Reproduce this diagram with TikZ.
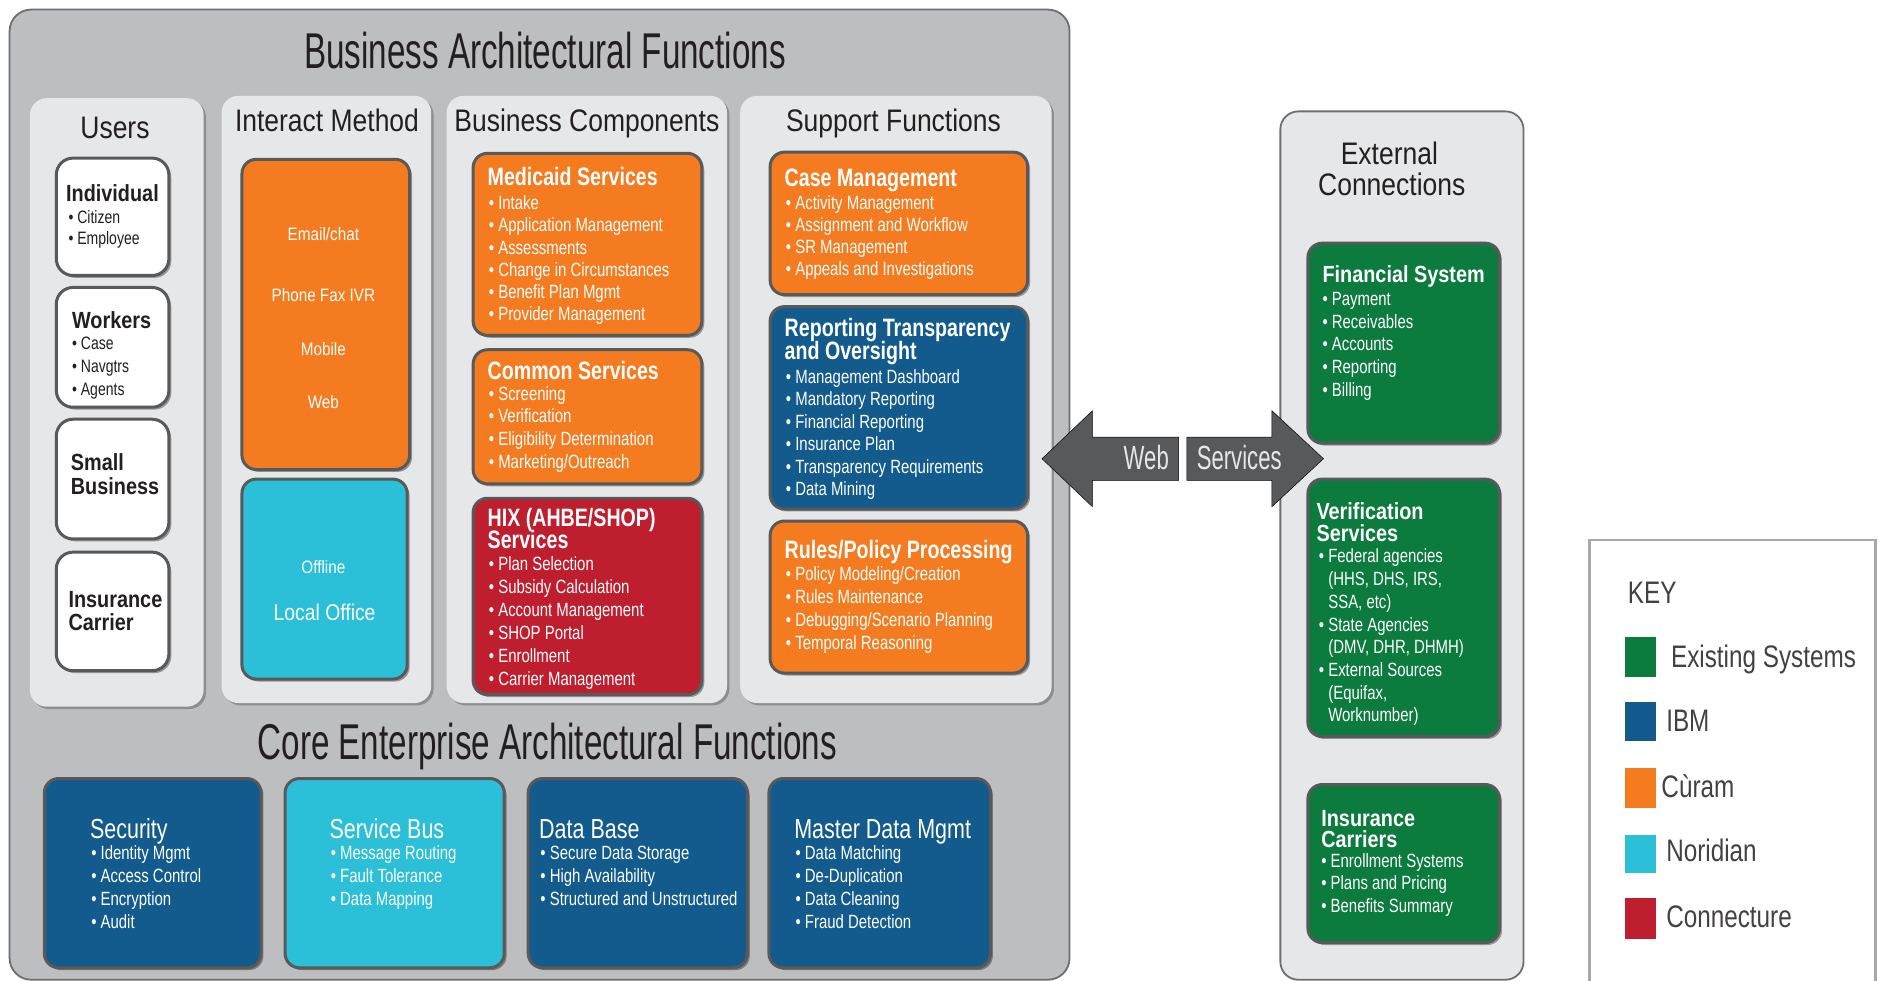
\documentclass[tikz,border=0pt]{standalone}
\usepackage{fontspec}
\setmainfont{Liberation Sans}
\newfontfamily\fntA[FakeStretch=0.66]{Liberation Sans}
\newfontfamily\fntB[FakeStretch=0.85]{Liberation Sans}
\newfontfamily\fntC[FakeStretch=0.78]{Liberation Sans}
\usetikzlibrary{fit,shadows}
\definecolor{corange}{HTML}{F47B20}
\definecolor{cblue}{HTML}{125B8C}
\definecolor{ccyan}{HTML}{2BBFD8}
\definecolor{cred}{HTML}{BE1E2D}
\definecolor{cgreen}{HTML}{0C7B3E}
\definecolor{pgray}{HTML}{BCBEC0}
\definecolor{plight}{HTML}{E6E7E8}
\definecolor{pborder}{HTML}{6D6E71}
\definecolor{bdark}{HTML}{58595B}
\definecolor{tdark}{HTML}{231F20}
\definecolor{keyborder}{HTML}{A7A9AC}
\newcommand{\itemcol}[6]{%
  \foreach \t [count=\i from 1] in {#5}{%
    \node[#6] (#1\i) at ({#2}, {#3+(\i-1)*#4}) {•\ \t};
  }}
\tikzset{
  shadowed/.style={drop shadow={shadow xshift=2pt, shadow yshift=-2pt, opacity=0.35, fill=black}},
  region/.style={fit={#1}, inner sep=0pt},
  ttl/.style={font=\fntA\fontsize{42}{44}\selectfont, text=tdark, inner sep=0pt, anchor=base},
  hdr/.style={font=\fntB\fontsize{26}{28}\selectfont, text=tdark, inner sep=0pt, anchor=base},
  panel/.style={fill=plight, rounded corners=14, drop shadow={shadow xshift=2pt, shadow yshift=-2pt, opacity=0.25, fill=black}},
  cbox/.style={draw=bdark, line width=2.5, rounded corners=12, shadowed},
  wbox/.style={fill=white, draw=bdark, line width=2.5, rounded corners=14, shadowed},
  btitle/.style={font=\fntC\bfseries\fontsize{21}{22}\selectfont, text=white, inner sep=0pt, anchor=base west},
  gtitle/.style={font=\fntB\bfseries\fontsize{19.5}{21}\selectfont, text=white, inner sep=0pt, anchor=base west},
  utitle/.style={font=\fntB\bfseries\fontsize{19.5}{21}\selectfont, text=tdark, inner sep=0pt, anchor=base west},
  ctitle/.style={font=\fntC\fontsize{23}{24}\selectfont, text=white, inner sep=0pt, anchor=base west},
  bitem/.style={font=\fntC\fontsize{16}{18}\selectfont, text=white, inner sep=0pt, anchor=base west},
  uitem/.style={font=\fntC\fontsize{15}{17}\selectfont, text=tdark, inner sep=0pt, anchor=base west},
  itext/.style={font=\fntB\fontsize{15}{17}\selectfont, text=white, inner sep=0pt, anchor=base},
  keytext/.style={font=\fntC\fontsize{26}{28}\selectfont, text=tdark!85, inner sep=0pt, anchor=base west},
  swatch/.style={inner sep=0pt},
  arrowshape/.style={fill=bdark},
  arrowtext/.style={font=\fntA\fontsize{28}{30}\selectfont, text=plight, inner sep=0pt, anchor=base west}
}
\begin{document}
\begin{tikzpicture}[x=1pt,y=-1pt]
\useasboundingbox (0,0) rectangle (1568,819);

% ---------- main panel ----------
\node[region={(8,8) (893,818)}, fill=pgray, draw=pborder, line width=1.5, rounded corners=18] (outer) {};
\node[ttl] (tBAF) at (455,57) {Business Architectural Functions};

\node[region={(25,82) (170,590)}, panel] (pUsers) {};
\node[region={(185,80) (360,587)}, panel] (pInter) {};
\node[region={(373,80) (607,587)}, panel] (pBiz) {};
\node[region={(618,80) (878,587)}, panel] (pSup) {};

\node[hdr] (hUsers) at (96,116) {Users};
\node[hdr] (hInter) at (273,110) {Interact Method};
\node[hdr] (hBiz) at (490,110) {Business Components};
\node[hdr] (hSup) at (746,110) {Support Functions};

% ---------- users ----------
\node[region={(47,132) (141,230)}, wbox] (uInd) {};
\node[region={(47,240) (141,340)}, wbox] (uWork) {};
\node[region={(47,350) (141,450)}, wbox] (uSmall) {};
\node[region={(47,461) (141,560)}, wbox] (uCarr) {};
\node[utitle] (uIndT) at (55,168) {Individual};
\itemcol{uIndI}{57}{187}{17}{Citizen,Employee}{uitem}
\node[utitle] (uWorkT) at (60,274) {Workers};
\itemcol{uWorkI}{60}{292}{19}{Case,Navgtrs,Agents}{uitem}
\node[utitle] (uSmallT1) at (59,393) {Small};
\node[utitle] (uSmallT2) at (59,413) {Business};
\node[utitle] (uCarrT1) at (57,507) {Insurance};
\node[utitle] (uCarrT2) at (57,526) {Carrier};

% ---------- interact method ----------
\node[region={(202,133) (342,392)}, cbox, fill=corange] (iOnline) {};
\node[region={(202,400) (340,567)}, cbox, fill=ccyan] (iOffline) {};
\node[itext] (iEmail) at (270,201) {Email/chat};
\node[itext] (iPhone) at (270,252) {Phone Fax IVR};
\node[itext] (iMobile) at (270,297) {Mobile};
\node[itext] (iWeb) at (270,341) {Web};
\node[itext] (iOff) at (270,479) {Offline};
\node[itext, font=\fntB\fontsize{19}{21}\selectfont] (iLocal) at (271,518) {Local Office};

% ---------- business components ----------
\node[region={(395,128) (586,280)}, cbox, fill=corange] (bMed) {};
\node[region={(395,292) (586,404)}, cbox, fill=corange] (bCom) {};
\node[region={(395,416) (586,580)}, cbox, fill=cred] (bHix) {};
\node[btitle] (bMedT) at (407,155) {Medicaid Services};
\itemcol{bMedI}{408}{175}{18.6}{Intake,Application Management,Assessments,Change in Circumstances,Benefit Plan Mgmt,Provider Management}{bitem}
\node[btitle] (bComT) at (407,317) {Common Services};
\itemcol{bComI}{408}{334}{19}{Screening,Verification,Eligibility Determination,Marketing/Outreach}{bitem}
\node[btitle] (bHixT1) at (407,440) {HIX (AHBE/SHOP)};
\node[btitle] (bHixT2) at (407,458) {Services};
\itemcol{bHixI}{408}{476}{19.3}{Plan Selection,Subsidy Calculation,Account Management,SHOP Portal,Enrollment,Carrier Management}{bitem}

% ---------- support functions ----------
\node[region={(643,127) (858,246)}, cbox, fill=corange] (sCase) {};
\node[region={(643,256) (858,425)}, cbox, fill=cblue] (sRep) {};
\node[region={(643,435) (858,562)}, cbox, fill=corange] (sRule) {};
\node[btitle] (sCaseT) at (655,156) {Case Management};
\itemcol{sCaseI}{656}{175}{18.4}{Activity Management,Assignment and Workflow,SR Management,Appeals and Investigations}{bitem}
\node[btitle] (sRepT1) at (655,281) {Reporting Transparency};
\node[btitle] (sRepT2) at (655,300) {and Oversight};
\itemcol{sRepI}{656}{320}{18.8}{Management Dashboard,Mandatory Reporting,Financial Reporting,Insurance Plan,Transparency Requirements,Data Mining}{bitem}
\node[btitle] (sRuleT) at (655,466) {Rules/Policy Processing};
\itemcol{sRuleI}{656}{485}{19}{Policy Modeling/Creation,Rules Maintenance,Debugging/Scenario Planning,Temporal Reasoning}{bitem}

% ---------- core ----------
\node[ttl] (tCore) at (457,634) {Core Enterprise Architectural Functions};
\node[region={(37,650) (218,808)}, cbox, fill=cblue] (cSec) {};
\node[region={(238,650) (421,808)}, cbox, fill=ccyan] (cBus) {};
\node[region={(441,650) (624,808)}, cbox, fill=cblue] (cDB) {};
\node[region={(642,650) (827,808)}, cbox, fill=cblue] (cMDM) {};
\node[ctitle] (cSecT) at (75,700) {Security};
\itemcol{cSecI}{76}{718}{19}{Identity Mgmt,Access Control,Encryption,Audit}{bitem}
\node[ctitle] (cBusT) at (275,700) {Service Bus};
\itemcol{cBusI}{276}{718}{19}{Message Routing,Fault Tolerance,Data Mapping}{bitem}
\node[ctitle] (cDBT) at (450,700) {Data Base};
\itemcol{cDBI}{451}{718}{19}{Secure Data Storage,High Availability,Structured and Unstructured}{bitem}
\node[ctitle] (cMDMT) at (663,700) {Master Data Mgmt};
\itemcol{cMDMI}{664}{718}{19}{Data Matching,De-Duplication,Data Cleaning,Fraud Detection}{bitem}

% ---------- external connections ----------
\node[region={(1069,93) (1272,818)}, fill=plight, draw=pborder, line width=1.5, rounded corners=15] (pExt) {};
\node[hdr] (hExt1) at (1160,137) {External};
\node[hdr] (hExt2) at (1162,163) {Connections};
\node[region={(1092,203) (1252,370)}, cbox, fill=cgreen] (eFin) {};
\node[region={(1092,400) (1252,615)}, cbox, fill=cgreen] (eVer) {};
\node[region={(1092,655) (1252,787)}, cbox, fill=cgreen] (eIns) {};
\node[gtitle] (eFinT) at (1104,236) {Financial System};
\itemcol{eFinI}{1104}{255}{19}{Payment,Receivables,Accounts,Reporting,Billing}{bitem}
\node[gtitle] (eVerT1) at (1099,434) {Verification};
\node[gtitle] (eVerT2) at (1099,452) {Services};
\node[bitem] (eVer1) at (1101,470) {•\ Federal agencies};
\node[bitem] (eVer2) at (1101,489) {\phantom{•}\ (HHS, DHS, IRS,};
\node[bitem] (eVer3) at (1101,508) {\phantom{•}\ SSA, etc)};
\node[bitem] (eVer4) at (1101,527) {•\ State Agencies};
\node[bitem] (eVer5) at (1101,546) {\phantom{•}\ (DMV, DHR, DHMH)};
\node[bitem] (eVer6) at (1101,565) {•\ External Sources};
\node[bitem] (eVer7) at (1101,584) {\phantom{•}\ (Equifax,};
\node[bitem] (eVer8) at (1101,602) {\phantom{•}\ Worknumber)};
\node[gtitle] (eInsT1) at (1103,690) {Insurance};
\node[gtitle] (eInsT2) at (1103,708) {Carriers};
\itemcol{eInsI}{1103}{724}{19}{Enrollment Systems,Plans and Pricing,Benefits Summary}{bitem}

% ---------- web services arrows (on top of both panels) ----------
\draw[arrowshape] (870,383) -- (912,343) -- (912,365) -- (984,365) -- (984,401) -- (912,401) -- (912,423) -- cycle;
\draw[arrowshape] (991,365) -- (1062,365) -- (1062,343) -- (1105,383) -- (1062,423) -- (1062,401) -- (991,401) -- cycle;
\node[arrowtext] (wWeb) at (938,392) {Web};
\node[arrowtext] (wServ) at (999,392) {Services};

% ---------- key ----------
\node[region={(1327,451) (1566,840)}, fill=white, draw=keyborder, line width=2] (keyBox) {};
\node[keytext] (keyT) at (1359,504) {KEY};
\node[region={(1357,532) (1383,565)}, swatch, fill=cgreen] (kG) {};
\node[region={(1357,586) (1383,619)}, swatch, fill=cblue] (kB) {};
\node[region={(1357,641) (1383,675)}, swatch, fill=corange] (kO) {};
\node[region={(1357,697) (1383,729)}, swatch, fill=ccyan] (kC) {};
\node[region={(1357,750) (1383,784)}, swatch, fill=cred] (kR) {};
\node[keytext] (kGT) at (1395,557) {Existing Systems};
\node[keytext] (kBT) at (1391,611) {IBM};
\node[keytext] (kOT) at (1387,666) {Cùram};
\node[keytext] (kCT) at (1391,719) {Noridian};
\node[keytext] (kRT) at (1391,774) {Connecture};
\end{tikzpicture}
\end{document}
